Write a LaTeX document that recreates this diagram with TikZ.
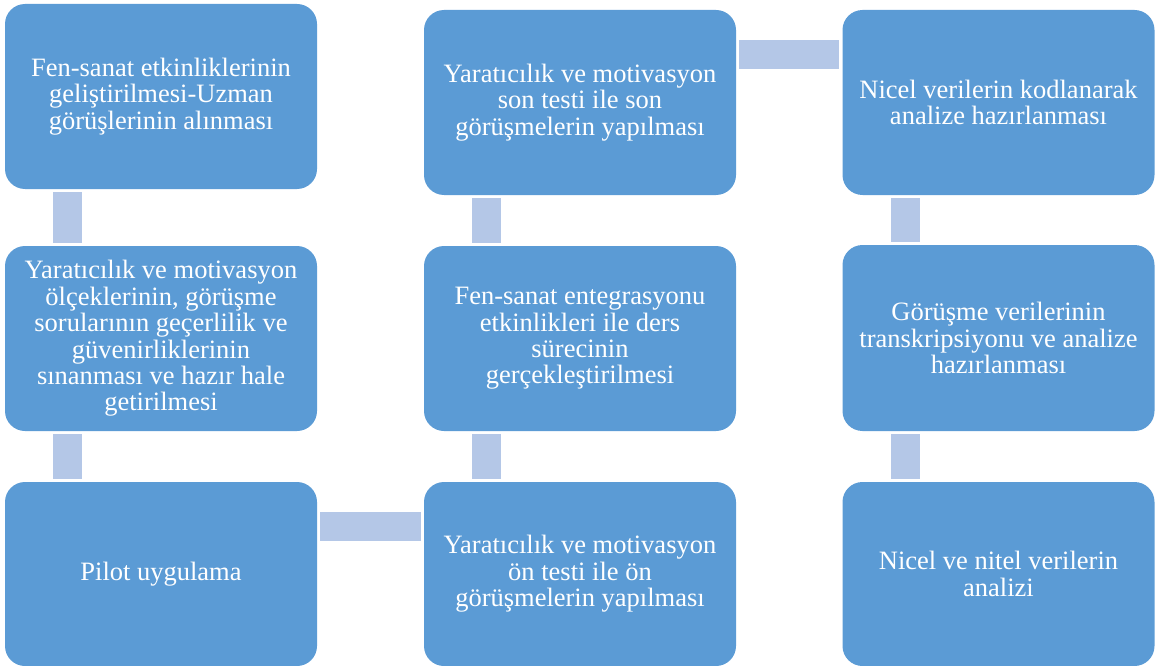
\documentclass[tikz,border=0pt]{standalone}
\usepackage{fontspec}
\setmainfont{Liberation Serif}
\usetikzlibrary{calc}

\definecolor{kutu}{HTML}{5B9BD5}
\definecolor{bag}{HTML}{B4C7E7}

\begin{document}
\begin{tikzpicture}[x=1pt, y=-1pt,
    adim/.style={fill=kutu, rounded corners=20pt, minimum width=312pt, minimum height=185pt,
      text=white, align=center, inner sep=0pt, font=\fontsize{26.5}{26.4}\selectfont},
    link/.style={draw=bag, line width=29pt, line cap=butt, shorten <=3pt, shorten >=3pt}]
    % Sayfa
    \useasboundingbox (0,0) rectangle (1157,666);

    % Define the offsets of the bars
    \def\solx{63pt}
    \def\ustx{44.5pt}

    % Birinci sutun
    \node[adim] (gelistirme) at (161,96.5) {Fen-sanat etkinliklerinin\\geliştirilmesi-Uzman\\görüşlerinin alınması};
    \node[adim] (olcekler) at (161,338.5) {Yaratıcılık ve motivasyon\\ölçeklerinin, görüşme\\sorularının geçerlilik ve\\güvenirliklerinin\\sınanması ve hazır hale\\getirilmesi};
    \node[adim, minimum height=184pt] (pilot) at (161,574) {Pilot uygulama};

    % Ikinci sutun
    \node[adim, minimum height=184pt] (ontest) at (580,574) {Yaratıcılık ve motivasyon\\ön testi ile ön\\görüşmelerin yapılması};
    \node[adim] (ders) at (580,338.5) {Fen-sanat entegrasyonu\\etkinlikleri ile ders\\sürecinin\\gerçekleştirilmesi};
    \node[adim] (sontest) at (580,102.5) {Yaratıcılık ve motivasyon\\son testi ile son\\görüşmelerin yapılması};

    % Ucuncu sutun
    \node[adim] (nicel) at (998.5,102.5) {Nicel verilerin kodlanarak\\analize hazırlanması};
    \node[adim, minimum height=186pt] (gorusme) at (998.5,338) {Görüşme verilerinin\\transkripsiyonu ve analize\\hazırlanması};
    \node[adim, minimum height=184pt] (analiz) at (998.5,574) {Nicel ve nitel verilerin\\analizi};

    % Baglantilar
    \draw[link] ([xshift=\solx]gelistirme.south west) -- ([xshift=\solx]olcekler.north west);
    \draw[link] ([xshift=\solx]olcekler.south west) -- ([xshift=\solx]pilot.north west);
    \draw[link] ([yshift=-\ustx]pilot.north east) -- ([yshift=-\ustx]ontest.north west);
    \draw[link] ([xshift=\solx]ontest.north west) -- ([xshift=\solx]ders.south west);
    \draw[link] ([xshift=\solx]ders.north west) -- ([xshift=\solx]sontest.south west);
    \draw[link] ([yshift=-\ustx]sontest.north east) -- ([yshift=-\ustx]nicel.north west);
    \draw[link] ([xshift=\solx]nicel.south west) -- ([xshift=\solx]gorusme.north west);
    \draw[link] ([xshift=\solx]gorusme.south west) -- ([xshift=\solx]analiz.north west);
\end{tikzpicture}
\end{document}
